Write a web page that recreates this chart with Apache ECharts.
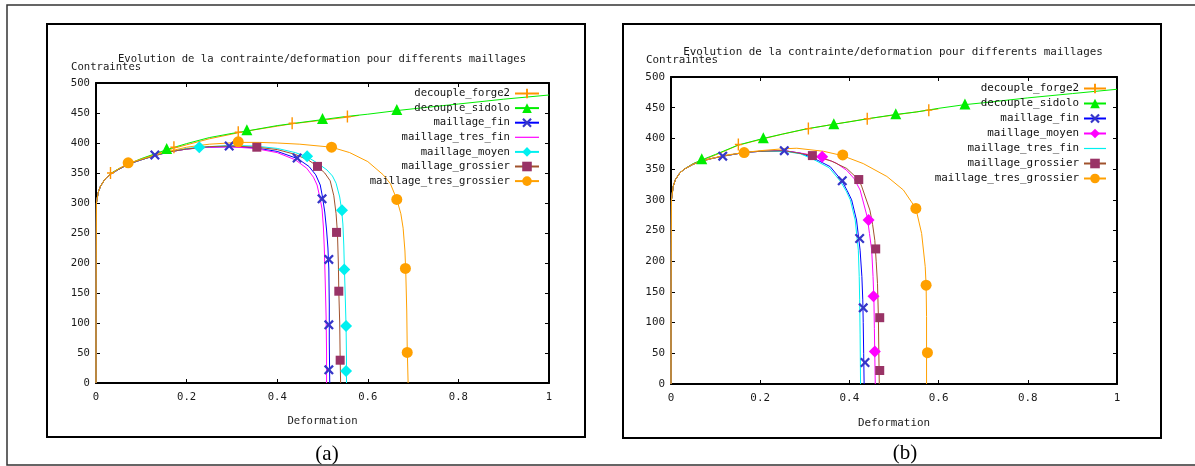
<!DOCTYPE html>
<html><head><meta charset="utf-8">
<script src="https://cdn.jsdelivr.net/npm/echarts@6/dist/echarts.min.js"></script>
<style>html,body{margin:0;padding:0;background:#fff}#c{width:1195px;height:466px}</style>
</head><body><div id="c"></div>
<script>
// ---------- tick labels ----------
const xTickLabels = ['0', '0.2', '0.4', '0.6', '0.8', '1'];
const yTickLabels = ['0', '50', '100', '150', '200', '250', '300', '350', '400', '450', '500'];
const chartTitle = 'Evolution de la contrainte/deformation pour differents maillages';
const xName = 'Deformation';
const yName = 'Contraintes';
const captions = ['(a)', '(b)'];

// ---------- panel (a): curves [deformation, contrainte] ----------
const A_forge2 = [[0,0],[0,150],[0.001,300],[0.005,318],[0.01,328],[0.02,340],[0.032,349],[0.05,357],[0.075,366],[0.1,373],[0.13,381],[0.171,391],[0.2,397],[0.25,407],[0.314,417],[0.35,422],[0.4,428],[0.433,432],[0.5,438],[0.555,443],[0.58,446]];
const A_forge2_marks = [[0.032,350],[0.172,393],[0.314,418],[0.433,433],[0.555,444]];
const A_sidolo = [[0,0],[0,150],[0.001,300],[0.005,318],[0.01,328],[0.02,340],[0.032,349],[0.05,357],[0.075,366],[0.1,374],[0.13,382],[0.156,389],[0.2,399],[0.25,409],[0.3,416],[0.333,420],[0.4,429],[0.45,434],[0.5,439],[0.55,444],[0.6,448],[0.664,454],[0.7,457],[0.8,465],[0.9,473],[1.0,480]];
const A_sidolo_marks = [[0.156,391],[0.333,422],[0.5,441],[0.664,456]];
const A_fin = [[0,0],[0,150],[0.001,300],[0.005,318],[0.01,328],[0.02,340],[0.032,348],[0.05,356],[0.072,365],[0.1,372],[0.13,379],[0.16,385],[0.2,390],[0.25,393],[0.295,394],[0.35,392],[0.4,386],[0.445,374],[0.47,361],[0.485,347],[0.495,330],[0.5,310],[0.505,285],[0.509,255],[0.512,225],[0.514,190],[0.515,130],[0.515,70],[0.516,0]];
const A_fin_marks = [[0.13,380],[0.294,395],[0.444,375],[0.499,307],[0.514,206],[0.514,97],[0.514,22]];
const A_tresfin = [[0,0],[0,150],[0.001,300],[0.005,318],[0.01,328],[0.02,340],[0.032,348],[0.05,356],[0.072,365],[0.1,372],[0.13,379],[0.16,385],[0.2,390],[0.25,393],[0.3,393.5],[0.35,391],[0.4,384],[0.44,372],[0.465,358],[0.48,343],[0.488,330],[0.494,310],[0.499,290],[0.502,260],[0.504,225],[0.506,170],[0.508,110],[0.509,50],[0.509,0]];
const A_moyen = [[0,0],[0,150],[0.001,300],[0.005,318],[0.01,328],[0.02,340],[0.032,348],[0.05,356],[0.072,365],[0.1,372],[0.13,379],[0.16,385],[0.2,391],[0.228,393],[0.3,396],[0.35,395],[0.4,391],[0.44,384],[0.466,377],[0.49,366],[0.51,355],[0.522,345],[0.53,333],[0.538,310],[0.542,290],[0.545,265],[0.547,230],[0.548,200],[0.55,150],[0.552,95],[0.553,40],[0.553,0]];
const A_moyen_marks = [[0.228,393],[0.466,378],[0.543,288],[0.548,189],[0.552,95],[0.552,20]];
const A_grossier = [[0,0],[0,150],[0.001,300],[0.005,318],[0.01,328],[0.02,340],[0.032,348],[0.05,356],[0.072,365],[0.1,372],[0.13,379],[0.16,385],[0.2,390],[0.25,394],[0.3,395],[0.355,393],[0.4,389],[0.44,381],[0.47,371],[0.489,361],[0.505,350],[0.517,337],[0.525,312],[0.53,282],[0.533,250],[0.535,200],[0.536,153],[0.538,100],[0.539,40],[0.54,0]];
const A_grossier_marks = [[0.355,393],[0.489,361],[0.531,251],[0.536,153],[0.539,38]];
const A_tresgros = [[0,0],[0,150],[0.001,300],[0.005,318],[0.01,328],[0.02,340],[0.032,348],[0.05,357],[0.071,366],[0.1,373],[0.13,380],[0.16,386],[0.2,393],[0.25,398],[0.314,401],[0.36,401],[0.4,400],[0.45,398],[0.52,393],[0.56,384],[0.6,369],[0.634,347],[0.65,332],[0.664,306],[0.673,282],[0.678,258],[0.682,220],[0.684,180],[0.686,120],[0.687,60],[0.689,0]];
const A_tresgros_marks = [[0.071,367],[0.314,402],[0.52,393],[0.664,306],[0.683,191],[0.687,51]];

// ---------- panel (b) ----------
const B_forge2 = [[0,0],[0,150],[0.001,300],[0.005,322],[0.01,333],[0.02,344],[0.03,350],[0.05,359],[0.069,364],[0.1,373],[0.151,389],[0.2,398],[0.25,407],[0.308,416],[0.365,423],[0.44,432],[0.5,438],[0.578,446],[0.6,448]];
const B_forge2_marks = [[0.151,390],[0.308,416],[0.44,432],[0.578,446]];
const B_sidolo = [[0,0],[0,150],[0.001,300],[0.005,322],[0.01,333],[0.02,344],[0.03,350],[0.05,359],[0.069,365],[0.1,374],[0.117,379],[0.15,389],[0.207,400],[0.25,407],[0.3,415],[0.365,423],[0.4,427],[0.45,433],[0.504,439],[0.55,443],[0.6,449],[0.659,455],[0.7,458],[0.8,466],[0.9,473],[1.0,480]];
const B_sidolo_marks = [[0.069,367],[0.207,401],[0.365,424],[0.504,440],[0.659,456]];
const B_fin = [[0,0],[0,150],[0.001,300],[0.005,322],[0.01,333],[0.02,344],[0.03,350],[0.05,358],[0.069,363],[0.09,367],[0.116,371],[0.14,374],[0.164,377],[0.2,379],[0.254,380],[0.29,376],[0.319,368],[0.357,354],[0.383,331],[0.395,315],[0.405,300],[0.416,267],[0.424,218],[0.428,175],[0.43,137],[0.431,100],[0.432,50],[0.433,0]];
const B_fin_marks = [[0.116,371],[0.254,380],[0.384,331],[0.423,237],[0.431,124],[0.435,35]];
const B_moyen = [[0,0],[0,150],[0.001,300],[0.005,322],[0.01,333],[0.02,344],[0.03,350],[0.05,358],[0.069,363],[0.09,367],[0.116,371],[0.14,374],[0.164,377],[0.2,379],[0.254,380],[0.3,375],[0.339,369],[0.37,360],[0.394,348],[0.41,335],[0.424,316],[0.44,272],[0.445,245],[0.45,218],[0.453,175],[0.455,137],[0.456,90],[0.457,45],[0.458,0]];
const B_moyen_marks = [[0.339,370],[0.443,267],[0.454,143],[0.457,53]];
const B_tresfin = [[0,0],[0,150],[0.001,300],[0.005,322],[0.01,333],[0.02,344],[0.03,350],[0.05,358],[0.069,363],[0.09,367],[0.116,371],[0.14,374],[0.164,377],[0.2,379],[0.254,379],[0.29,375],[0.319,366],[0.355,352],[0.38,330],[0.393,314],[0.402,300],[0.413,267],[0.42,218],[0.422,175],[0.423,137],[0.424,80],[0.425,0]];
const B_grossier = [[0,0],[0,150],[0.001,300],[0.005,322],[0.01,333],[0.02,344],[0.03,350],[0.05,358],[0.069,363],[0.09,367],[0.116,371],[0.14,374],[0.164,377],[0.2,379],[0.254,380],[0.317,372],[0.36,363],[0.394,351],[0.422,332],[0.428,321],[0.446,283],[0.452,260],[0.457,234],[0.46,200],[0.463,164],[0.465,110],[0.466,50],[0.467,0]];
const B_grossier_marks = [[0.317,372],[0.421,333],[0.459,220],[0.468,108],[0.468,22]];
const B_tresgros = [[0,0],[0,150],[0.001,300],[0.005,322],[0.01,333],[0.02,344],[0.03,350],[0.05,358],[0.069,363],[0.09,367],[0.116,372],[0.164,377],[0.2,380],[0.25,383],[0.282,384],[0.342,379],[0.384,372],[0.431,359],[0.484,338],[0.521,316],[0.549,286],[0.562,245],[0.57,191],[0.572,160],[0.573,110],[0.573,50],[0.573,0]];
const B_tresgros_marks = [[0.164,377],[0.385,373],[0.549,286],[0.572,161],[0.575,51]];

// ---------- styling ----------
const FONT = 'DejaVu Sans Mono';
const PLUS = 'path://M4,0 L6,0 L6,5.3 L10,5.3 L10,6.7 L6,6.7 L6,12 L4,12 L4,6.7 L0,6.7 L0,5.3 L4,5.3 Z';
const CROSS = 'path://M0,1.6 L1.6,0 L5,3.4 L8.4,0 L10,1.6 L6.6,5 L10,8.4 L8.4,10 L5,6.6 L1.6,10 L0,8.4 L3.4,5 Z';
const ORANGE1 = '#ff9400', ORANGE2 = '#ffa000', GREEN = '#00ee00', BLUE = '#0000ff', XBLUE = '#3636c8',
      MAGENTA = '#ff00ff', CYAN = '#00f0f0', SIENNA = '#a0522d', SQUARE = '#993366';

const panels = [
  { p: 'a', grid: {left: 96, top: 83, width: 453, height: 300}, fs: 10.6, legendRight: 655, legendTop: 88, legendGap: 3.6, itemW: 24,
    order: ['decouple_forge2','decouple_sidolo','maillage_fin','maillage_tres_fin','maillage_moyen','maillage_grossier','maillage_tres_grossier'],
    defs: {
      decouple_forge2: {curve: A_forge2, marks: A_forge2_marks, sym: PLUS, size: [7,12], line: ORANGE1, mark: ORANGE1},
      decouple_sidolo: {curve: A_sidolo, marks: A_sidolo_marks, sym: 'triangle', size: 11, line: GREEN, mark: GREEN},
      maillage_fin: {curve: A_fin, marks: A_fin_marks, sym: CROSS, size: 10, line: BLUE, mark: XBLUE},
      maillage_tres_fin: {curve: A_tresfin, marks: null, sym: 'none', size: 0, line: MAGENTA, mark: MAGENTA},
      maillage_moyen: {curve: A_moyen, marks: A_moyen_marks, sym: 'diamond', size: 12, line: CYAN, mark: CYAN},
      maillage_grossier: {curve: A_grossier, marks: A_grossier_marks, sym: 'rect', size: 9, line: SIENNA, mark: SQUARE},
      maillage_tres_grossier: {curve: A_tresgros, marks: A_tresgros_marks, sym: 'circle', size: 11, line: ORANGE2, mark: ORANGE2}
    },
    texts: {title: [322, 59.5], yname: [71, 67], xname: [322.5, 421], caption: [327, 454]},
    frame: {x: 47, y: 24, width: 538, height: 413}
  },
  { p: 'b', grid: {left: 671, top: 77, width: 446, height: 307}, fs: 10.9, legendRight: 88, legendTop: 83, legendGap: 4, itemW: 22,
    order: ['decouple_forge2','decouple_sidolo','maillage_fin','maillage_moyen','maillage_tres_fin','maillage_grossier','maillage_tres_grossier'],
    defs: {
      decouple_forge2: {curve: B_forge2, marks: B_forge2_marks, sym: PLUS, size: [7,12], line: ORANGE1, mark: ORANGE1},
      decouple_sidolo: {curve: B_sidolo, marks: B_sidolo_marks, sym: 'triangle', size: 11, line: GREEN, mark: GREEN},
      maillage_fin: {curve: B_fin, marks: B_fin_marks, sym: CROSS, size: 10, line: BLUE, mark: XBLUE},
      maillage_moyen: {curve: B_moyen, marks: B_moyen_marks, sym: 'diamond', size: 12, line: MAGENTA, mark: MAGENTA},
      maillage_tres_fin: {curve: B_tresfin, marks: null, sym: 'none', size: 0, line: CYAN, mark: CYAN},
      maillage_grossier: {curve: B_grossier, marks: B_grossier_marks, sym: 'rect', size: 9, line: SIENNA, mark: SQUARE},
      maillage_tres_grossier: {curve: B_tresgros, marks: B_tresgros_marks, sym: 'circle', size: 11, line: ORANGE2, mark: ORANGE2}
    },
    texts: {title: [893, 52.5], yname: [646, 60.5], xname: [894, 423], caption: [905, 453]},
    frame: {x: 623, y: 24, width: 538, height: 414}
  }
];

const option = {
  animation: false,
  backgroundColor: '#fff',
  grid: [], xAxis: [], yAxis: [], series: [], legend: [], graphic: []
};

// outer frame
option.graphic.push({type: 'rect', shape: {x: 7, y: 5, width: 1200, height: 460}, style: {fill: 'none', stroke: '#333', lineWidth: 1.5}, silent: true});

panels.forEach((P, gi) => {
  option.grid.push(Object.assign({show: false, containLabel: false}, P.grid));
  const tickStyle = {show: true, inside: true, length: 4, lineStyle: {color: '#000', width: 1}};
  const lineStyle = {show: true, onZero: false, lineStyle: {color: '#000', width: 2}};
  const lbl = {color: '#1a1a1a', fontFamily: FONT, fontSize: P.fs};
  ['bottom', 'top'].forEach(pos => option.xAxis.push({
    gridIndex: gi, type: 'value', min: 0, max: 1, interval: 0.2, position: pos,
    axisLine: lineStyle, axisTick: tickStyle, splitLine: {show: false},
    axisLabel: Object.assign({show: pos === 'bottom', margin: 9, formatter: v => xTickLabels[Math.round(v / 0.2)]}, lbl)
  }));
  ['left', 'right'].forEach(pos => option.yAxis.push({
    gridIndex: gi, type: 'value', min: 0, max: 500, interval: 50, position: pos,
    axisLine: lineStyle, axisTick: tickStyle, splitLine: {show: false},
    axisLabel: Object.assign({show: pos === 'left', margin: 6, formatter: v => yTickLabels[Math.round(v / 50)]}, lbl)
  }));
  const xi = gi * 2, yi = gi * 2;
  const legendData = [];
  P.order.forEach(nm => {
    const d = P.defs[nm];
    const sname = P.p + ':' + nm;
    option.series.push({
      type: 'line', name: sname, xAxisIndex: xi, yAxisIndex: yi, data: d.curve,
      showSymbol: false, symbol: d.sym === 'none' ? 'none' : d.sym, symbolSize: d.size,
      lineStyle: {color: d.line, width: 1}, itemStyle: {color: d.mark},
      emphasis: {disabled: true}, z: 2, silent: true
    });
    if (d.marks) {
      option.series.push({
        type: 'scatter', name: sname, xAxisIndex: xi, yAxisIndex: yi, data: d.marks,
        symbol: d.sym, symbolSize: d.size, itemStyle: {color: d.mark, opacity: 1},
        emphasis: {disabled: true}, z: 3, silent: true
      });
      legendData.push({name: sname});
    } else {
      legendData.push({name: sname, icon: 'path://M0,0 L' + P.itemW + ',0 L' + P.itemW + ',1.2 L0,1.2 Z', itemStyle: {color: d.line}});
    }
  });
  option.legend.push({
    data: legendData, orient: 'vertical', align: 'right', right: P.legendRight, top: P.legendTop,
    itemWidth: P.itemW, itemHeight: 12, itemGap: P.legendGap, padding: 0, selectedMode: false,
    symbolKeepAspect: true,
    formatter: n => n.slice(2),
    textStyle: {fontFamily: FONT, fontSize: P.fs, color: '#111'}
  });
  const font = P.fs + 'px "' + FONT + '"';
  option.graphic.push(
    {type: 'rect', shape: P.frame, style: {fill: 'none', stroke: '#000', lineWidth: 2}, silent: true},
    {type: 'text', x: P.texts.title[0], y: P.texts.title[1], style: {text: chartTitle, font: font, fill: '#1a1a1a', align: 'center', verticalAlign: 'middle'}, silent: true},
    {type: 'text', x: P.texts.yname[0], y: P.texts.yname[1], style: {text: yName, font: font, fill: '#1a1a1a', align: 'left', verticalAlign: 'middle'}, silent: true},
    {type: 'text', x: P.texts.xname[0], y: P.texts.xname[1], style: {text: xName, font: font, fill: '#1a1a1a', align: 'center', verticalAlign: 'middle'}, silent: true},
    {type: 'text', x: P.texts.caption[0], y: P.texts.caption[1], style: {text: captions[gi], font: '21px "Liberation Serif"', fill: '#000', align: 'center', verticalAlign: 'middle'}, silent: true}
  );
});

const chart = echarts.init(document.getElementById('c'), null, {renderer: 'canvas'});
chart.setOption(option);
</script></body></html>
